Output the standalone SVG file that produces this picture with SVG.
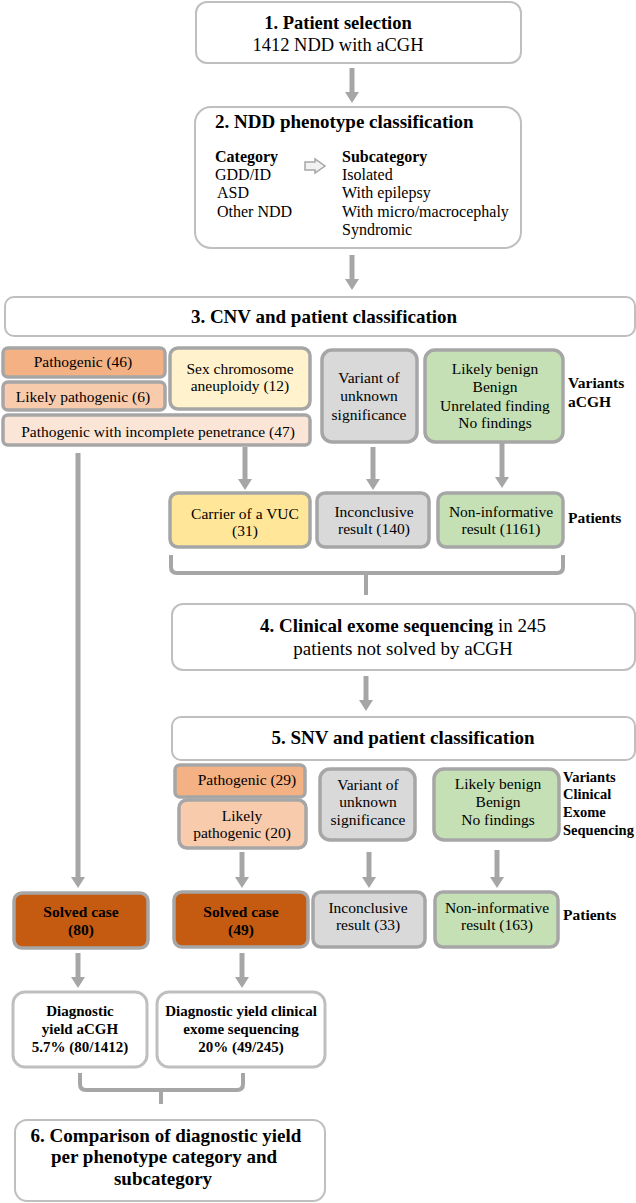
<svg xmlns="http://www.w3.org/2000/svg" width="636" height="1203" viewBox="0 0 636 1203">
<defs>
<marker id="ah" markerUnits="userSpaceOnUse" markerWidth="12" markerHeight="14" refX="0" refY="7" orient="auto">
<path d="M0,0 L11,7 L0,14 z" fill="#a6a6a6"/>
</marker>
<style>
text{font-family:"Liberation Serif","Times New Roman",serif;fill:#000}
.t{font-size:19px;font-weight:bold;text-anchor:middle}
.r{font-size:19px;text-anchor:middle}
.s{font-size:15.5px;text-anchor:middle}
.b{font-size:15.5px;font-weight:bold;text-anchor:middle}
.lb{font-size:15.5px;font-weight:bold}
.lb2{font-size:14.5px;font-weight:bold}
.c{font-size:16px}
.cb{font-size:16px;font-weight:bold}
.w{fill:#fff;stroke:#bfbfbf;stroke-width:2}
.w3{fill:#fff;stroke:#bfbfbf;stroke-width:3}
.k{stroke:#a6a6a6;stroke-width:3.5}
.p{fill:#f4b183}
.lp{fill:#f8cbad}
.ip{fill:#fbe5d6}
.sx{fill:#fff2cc}
.cv{fill:#ffe699}
.g{fill:#d9d9d9}
.gr{fill:#c5e0b4}
.sv{fill:#c55a11}
.ar{stroke:#a6a6a6;stroke-width:5;fill:none;marker-end:url(#ah)}
.br{stroke:#a6a6a6;stroke-width:4;fill:none}
</style>
</defs>

<g id="connectors">
<line class="ar" x1="352" y1="68" x2="352" y2="92"/>
<line class="ar" x1="352" y1="255" x2="352" y2="279"/>
<line class="ar" x1="78" y1="453" x2="78" y2="877"/>
<line class="ar" x1="245" y1="447" x2="245" y2="479"/>
<line class="ar" x1="373" y1="447" x2="373" y2="479"/>
<line class="ar" x1="502" y1="443" x2="502" y2="477"/>
<path class="br" d="M171,555 V567 Q171,573 177,573 H557 Q563,573 563,567 V555 M366,573 V595"/>
<line class="ar" x1="366" y1="676" x2="366" y2="700"/>
<line class="ar" x1="242" y1="852" x2="242" y2="877"/>
<line class="ar" x1="369" y1="852" x2="369" y2="877"/>
<line class="ar" x1="497" y1="850" x2="497" y2="877"/>
<line class="ar" x1="78" y1="953" x2="78" y2="977"/>
<line class="ar" x1="242" y1="953" x2="242" y2="977"/>
<path class="br" d="M80,1073 V1084 Q80,1090 86,1090 H237 Q243,1090 243,1084 V1073 M161,1090 V1104"/>
</g>

<g id="n1">
<rect class="w" x="196" y="2" width="325" height="61" rx="11"/>
<text class="t" x="338" y="29" style="font-size:18.5px">1. Patient selection</text>
<text class="r" x="338" y="51" style="font-size:18.5px">1412 NDD with aCGH</text>
</g>

<g id="n2">
<rect class="w" x="195" y="107" width="326" height="141" rx="16"/>
<text class="t" x="215" y="128" style="text-anchor:start">2. NDD phenotype classification</text>
<text class="cb" x="215" y="162">Category</text>
<text class="c" x="215" y="180">GDD/ID</text>
<text class="c" x="217" y="198">ASD</text>
<text class="c" x="217" y="217">Other NDD</text>
<polygon points="305,162 315,162 315,159 325,166 315,173 315,170 305,170" fill="#f2f2f2" stroke="#a6a6a6" stroke-width="1.5"/>
<text class="cb" x="342" y="162">Subcategory</text>
<text class="c" x="342" y="180">Isolated</text>
<text class="c" x="342" y="198">With epilepsy</text>
<text class="c" x="342" y="217">With micro/macrocephaly</text>
<text class="c" x="342" y="235">Syndromic</text>
</g>

<g id="n3">
<rect class="w" x="5" y="297" width="630" height="39" rx="9"/>
<text class="t" x="324" y="323">3. CNV and patient classification</text>
</g>

<g id="cnv-pathogenic">
<rect class="p k" x="3" y="348" width="162" height="29" rx="5"/>
<text class="s" x="83" y="367">Pathogenic (46)</text>
</g>
<g id="cnv-likely-pathogenic">
<rect class="lp k" x="3" y="382" width="162" height="28" rx="5"/>
<text class="s" x="83" y="402">Likely pathogenic (6)</text>
</g>
<g id="cnv-sex">
<rect class="sx k" x="170" y="348" width="140" height="61" rx="8"/>
<text class="s" x="240" y="374">Sex chromosome</text>
<text class="s" x="240" y="391">aneuploidy (12)</text>
</g>
<g id="cnv-incomplete">
<rect class="ip k" x="3" y="415" width="307" height="30" rx="5"/>
<text class="s" x="158" y="437">Pathogenic with incomplete penetrance (47)</text>
</g>
<g id="cnv-vus">
<rect class="g k" x="322" y="350" width="95" height="92" rx="10"/>
<text class="s" x="369" y="383">Variant of</text>
<text class="s" x="369" y="401">unknown</text>
<text class="s" x="369" y="420">significance</text>
</g>
<g id="cnv-benign">
<rect class="gr k" x="425" y="350" width="138" height="92" rx="10"/>
<text class="s" x="495" y="374">Likely benign</text>
<text class="s" x="495" y="392">Benign</text>
<text class="s" x="495" y="411">Unrelated finding</text>
<text class="s" x="495" y="428">No findings</text>
</g>
<g id="label-variants-acgh">
<text class="lb" x="568" y="388">Variants</text>
<text class="lb" x="568" y="407">aCGH</text>
</g>

<g id="p-carrier">
<rect class="cv k" x="170" y="493" width="140" height="54" rx="8"/>
<text class="s" x="245" y="519">Carrier of a VUC</text>
<text class="s" x="245" y="536">(31)</text>
</g>
<g id="p-inconclusive1">
<rect class="g k" x="317" y="493" width="112" height="54" rx="8"/>
<text class="s" x="374" y="517">Inconclusive</text>
<text class="s" x="374" y="534">result (140)</text>
</g>
<g id="p-noninf1">
<rect class="gr k" x="438" y="493" width="125" height="54" rx="8"/>
<text class="s" x="501" y="517">Non-informative</text>
<text class="s" x="501" y="534">result (1161)</text>
</g>
<g id="label-patients1">
<text class="lb" x="568" y="523">Patients</text>
</g>

<g id="n4">
<rect class="w" x="172" y="604" width="463" height="66" rx="11"/>
<text class="r" x="403" y="632"><tspan font-weight="bold">4. Clinical exome sequencing</tspan> in 245</text>
<text class="r" x="403" y="655">patients not solved by aCGH</text>
</g>

<g id="n5">
<rect class="w" x="172" y="717" width="463" height="43" rx="9"/>
<text class="t" x="403" y="744">5. SNV and patient classification</text>
</g>

<g id="snv-pathogenic">
<rect class="p k" x="175" y="765" width="130" height="32" rx="5"/>
<text class="s" x="247" y="785">Pathogenic (29)</text>
</g>
<g id="snv-likely-pathogenic">
<rect class="lp k" x="179" y="800" width="127" height="48" rx="8"/>
<text class="s" x="242" y="821">Likely</text>
<text class="s" x="242" y="838">pathogenic (20)</text>
</g>
<g id="snv-vus">
<rect class="g k" x="320" y="769" width="95" height="71" rx="10"/>
<text class="s" x="368" y="790">Variant of</text>
<text class="s" x="368" y="807">unknown</text>
<text class="s" x="368" y="825">significance</text>
</g>
<g id="snv-benign">
<rect class="gr k" x="434" y="769" width="125" height="71" rx="10"/>
<text class="s" x="498" y="789">Likely benign</text>
<text class="s" x="498" y="807">Benign</text>
<text class="s" x="498" y="825">No findings</text>
</g>
<g id="label-variants-ces">
<text class="lb2" x="563" y="782">Variants</text>
<text class="lb2" x="563" y="799">Clinical</text>
<text class="lb2" x="563" y="817">Exome</text>
<text class="lb2" x="563" y="835">Sequencing</text>
</g>

<g id="solved80">
<rect class="sv k" x="14" y="893" width="134" height="55" rx="8"/>
<text class="b" x="81" y="917">Solved case</text>
<text class="b" x="81" y="935">(80)</text>
</g>
<g id="solved49">
<rect class="sv k" x="174" y="892" width="134" height="55" rx="8"/>
<text class="b" x="241" y="917">Solved case</text>
<text class="b" x="241" y="935">(49)</text>
</g>
<g id="p-inconclusive2">
<rect class="g k" x="313" y="892" width="112" height="55" rx="8"/>
<text class="s" x="368" y="913">Inconclusive</text>
<text class="s" x="368" y="930">result (33)</text>
</g>
<g id="p-noninf2">
<rect class="gr k" x="435" y="892" width="123" height="55" rx="8"/>
<text class="s" x="497" y="913">Non-informative</text>
<text class="s" x="497" y="930">result (163)</text>
</g>
<g id="label-patients2">
<text class="lb" x="563" y="920">Patients</text>
</g>

<g id="yield-acgh">
<rect class="w3" x="13" y="992" width="134" height="75" rx="12"/>
<text class="b" x="80" y="1016" style="font-size:15px">Diagnostic</text>
<text class="b" x="80" y="1034" style="font-size:15px">yield aCGH</text>
<text class="b" x="80" y="1052" style="font-size:15px">5.7% (80/1412)</text>
</g>
<g id="yield-ces">
<rect class="w3" x="157" y="992" width="168" height="75" rx="12"/>
<text class="b" x="241" y="1016" style="font-size:15px">Diagnostic yield clinical</text>
<text class="b" x="241" y="1034" style="font-size:15px">exome sequencing</text>
<text class="b" x="241" y="1052" style="font-size:15px">20% (49/245)</text>
</g>

<g id="n6">
<rect class="w" x="15" y="1120" width="310" height="81" rx="12"/>
<text class="t" x="166" y="1142">6. Comparison of diagnostic yield</text>
<text class="t" x="164" y="1163">per phenotype category  and</text>
<text class="t" x="163" y="1185">subcategory</text>
</g>
</svg>
